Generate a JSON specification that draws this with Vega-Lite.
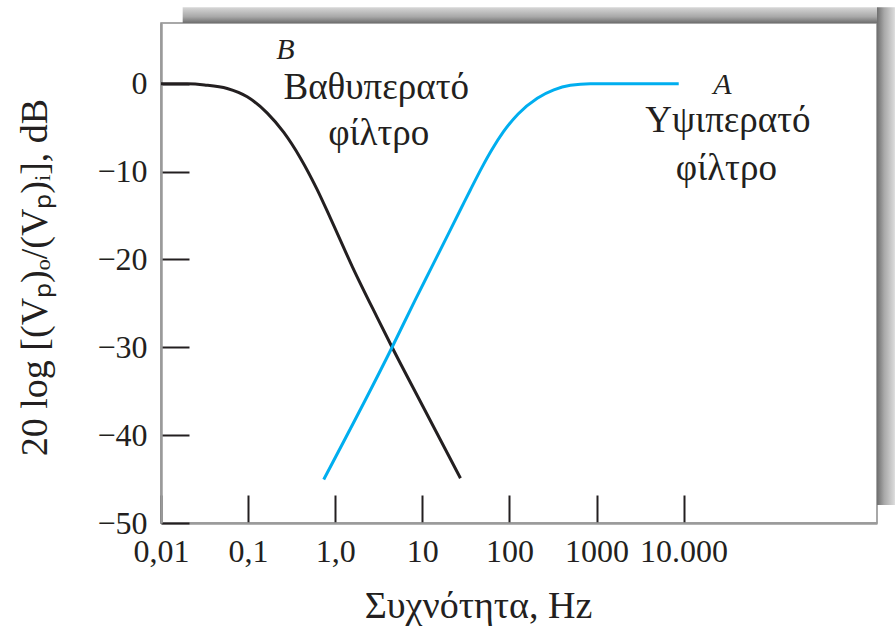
{
  "$schema": "https://vega.github.io/schema/vega-lite/v6.json",
  "width": 716,
  "height": 500,
  "autosize": {"type": "none"},
  "padding": {"left": 161, "top": 23, "right": 18, "bottom": 112},
  "background": "white",
  "datasets": {
    "curves": [
      {"filter": "B", "f": 0.01, "dB": 0},
      {"filter": "B", "f": 0.02, "dB": -0.02},
      {"filter": "B", "f": 0.0316, "dB": -0.15},
      {"filter": "B", "f": 0.0575, "dB": -0.55},
      {"filter": "B", "f": 0.0977, "dB": -1.5},
      {"filter": "B", "f": 0.166, "dB": -3.35},
      {"filter": "B", "f": 0.257, "dB": -5.55},
      {"filter": "B", "f": 0.398, "dB": -8.45},
      {"filter": "B", "f": 0.617, "dB": -12.0},
      {"filter": "B", "f": 0.881, "dB": -15.3},
      {"filter": "B", "f": 1.585, "dB": -20.9},
      {"filter": "B", "f": 3.03, "dB": -26.6},
      {"filter": "B", "f": 4.5, "dB": -30.0},
      {"filter": "B", "f": 10, "dB": -36.6},
      {"filter": "B", "f": 27.4, "dB": -44.9},
      {"filter": "A", "f": 0.738, "dB": -45.05},
      {"filter": "A", "f": 4.5, "dB": -30.0},
      {"filter": "A", "f": 8.3, "dB": -24.6},
      {"filter": "A", "f": 12.94, "dB": -20.8},
      {"filter": "A", "f": 28.2, "dB": -14.1},
      {"filter": "A", "f": 35.6, "dB": -12.1},
      {"filter": "A", "f": 48.6, "dB": -9.5},
      {"filter": "A", "f": 63.1, "dB": -7.5},
      {"filter": "A", "f": 85.1, "dB": -5.5},
      {"filter": "A", "f": 125.9, "dB": -3.45},
      {"filter": "A", "f": 208.9, "dB": -1.65},
      {"filter": "A", "f": 323.6, "dB": -0.7},
      {"filter": "A", "f": 501.2, "dB": -0.18},
      {"filter": "A", "f": 851.1, "dB": 0},
      {"filter": "A", "f": 8790, "dB": 0}
    ],
    "letters": [
      {"name": "B", "f": 0.268, "dB": 2.84},
      {"name": "A", "f": 27900, "dB": -1.2}
    ],
    "names": [
      {"name": "Βαθυπερατό", "f": 2.96, "dB": -1.79},
      {"name": "φίλτρο", "f": 3.16, "dB": -7.02},
      {"name": "Υψιπερατό", "f": 32300, "dB": -5.5},
      {"name": "φίλτρο", "f": 30970, "dB": -11.0}
    ]
  },
  "layer": [
    {
      "data": {"values": [{}]},
      "mark": {
        "type": "rect",
        "clip": false,
        "strokeWidth": 0,
        "fill": {
          "gradient": "linear", "x1": 0, "y1": 0, "x2": 0, "y2": 1,
          "stops": [
            {"offset": 0, "color": "#d6d6d6"},
            {"offset": 0.6, "color": "#a8a8a8"},
            {"offset": 1, "color": "#6e6e6e"}
          ]
        }
      },
      "encoding": {
        "x": {"datum": 0.01774},
        "x2": {"datum": 1661000},
        "y": {"datum": 8.68},
        "y2": {"datum": 6.9}
      }
    },
    {
      "data": {"values": [{}]},
      "mark": {
        "type": "rect",
        "clip": false,
        "strokeWidth": 0,
        "fill": {
          "gradient": "linear", "x1": 0, "y1": 0, "x2": 1, "y2": 0,
          "stops": [
            {"offset": 0, "color": "#6e6e6e"},
            {"offset": 0.4, "color": "#a8a8a8"},
            {"offset": 1, "color": "#dcdcdc"}
          ]
        }
      },
      "encoding": {
        "x": {"datum": 1661000},
        "x2": {"datum": 2670000},
        "y": {"datum": 8.68},
        "y2": {"datum": -47.96}
      }
    },
    {
      "data": {"name": "curves"},
      "mark": {"type": "line", "strokeWidth": 3, "interpolate": "monotone"},
      "encoding": {
        "x": {
          "field": "f",
          "type": "quantitative",
          "scale": {"type": "log", "domain": [0.01, 1661000], "nice": false},
          "axis": {
            "title": "Συχνότητα, Hz",
            "values": [0.01, 0.1, 1, 10, 100, 1000, 10000],
            "labelExpr": "datum.value < 0.05 ? '0,01' : datum.value < 0.5 ? '0,1' : datum.value < 5 ? '1,0' : datum.value < 50 ? '10' : datum.value < 500 ? '100' : datum.value < 5000 ? '1000' : '10.000'",
            "labelPadding": 41,
            "titlePadding": 20,
            "titleFontSize": 38,
            "titleX": 317
          }
        },
        "y": {
          "field": "dB",
          "type": "quantitative",
          "scale": {"domain": [-50, 6.9], "nice": false, "zero": false},
          "axis": {
            "title": "20 log [(Vₚ)ₒ/(Vₚ)ᵢ], dB",
            "values": [-50, -40, -30, -20, -10, 0],
            "labelPadding": 42,
            "titlePadding": 42,
            "titleFontSize": 38,
            "titleY": 254
          }
        },
        "color": {
          "field": "filter",
          "type": "nominal",
          "scale": {"domain": ["A", "B"], "range": ["#00aeef", "#231f20"]},
          "legend": null
        }
      }
    },
    {
      "data": {"name": "letters"},
      "mark": {"type": "text", "font": "Liberation Serif", "fontSize": 30, "fontStyle": "italic", "color": "#231f20", "align": "center", "baseline": "alphabetic"},
      "encoding": {
        "x": {"field": "f", "type": "quantitative"},
        "y": {"field": "dB", "type": "quantitative"},
        "text": {"field": "name"}
      }
    },
    {
      "data": {"name": "names"},
      "mark": {"type": "text", "font": "Liberation Serif", "fontSize": 37, "color": "#231f20", "align": "center", "baseline": "alphabetic"},
      "encoding": {
        "x": {"field": "f", "type": "quantitative"},
        "y": {"field": "dB", "type": "quantitative"},
        "text": {"field": "name"}
      }
    }
  ],
  "config": {
    "font": "Liberation Serif",
    "view": {"stroke": "#8c8c8c", "strokeWidth": 1.5},
    "axis": {
      "labelFont": "Liberation Serif",
      "labelFontSize": 32,
      "labelColor": "#231f20",
      "labelOverlap": false,
      "labelFlush": false,
      "titleFont": "Liberation Serif",
      "titleFontSize": 34,
      "titleFontWeight": "normal",
      "titleColor": "#231f20",
      "domainColor": "#9a9a9a",
      "domainWidth": 2.5,
      "tickColor": "#231f20",
      "tickWidth": 2,
      "tickSize": -28,
      "grid": false
    }
  }
}
